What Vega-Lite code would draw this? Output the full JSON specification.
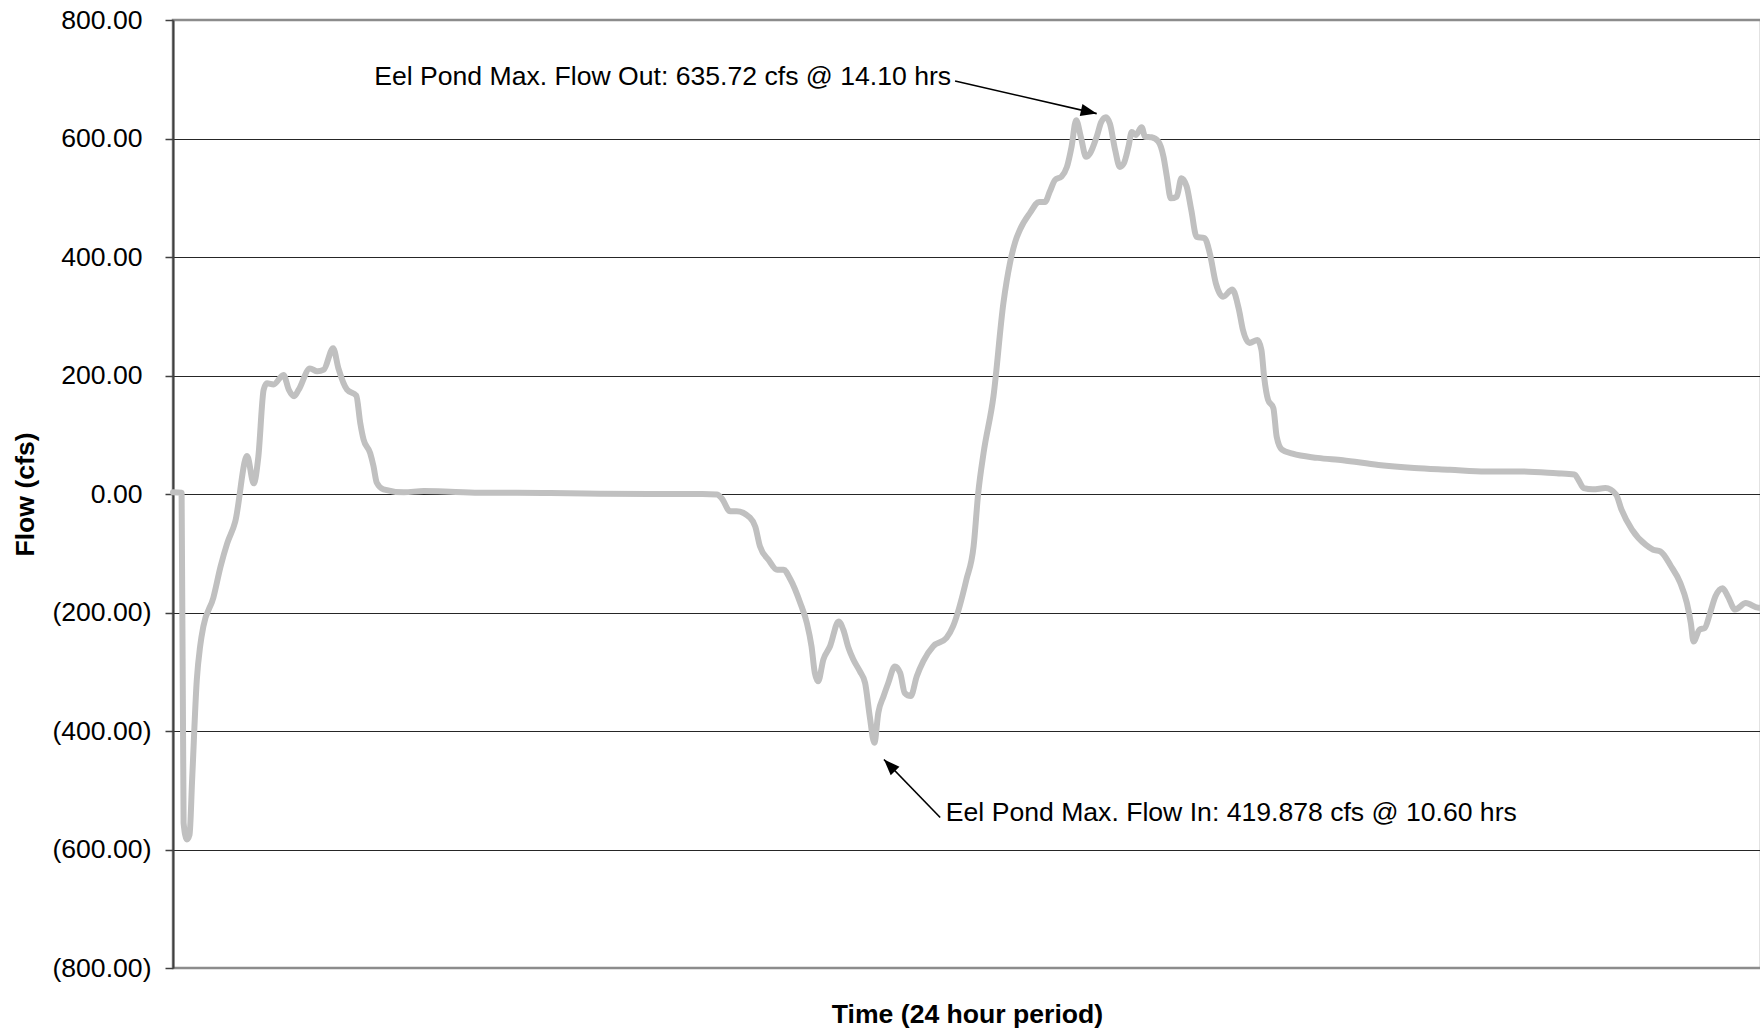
{
  "$schema": "https://vega.github.io/schema/vega-lite/v6.json",
  "autosize": {"type": "none"},
  "width": 1588,
  "height": 948,
  "padding": {"left": 173, "top": 20, "right": 0, "bottom": 61},
  "background": "white",
  "config": {
    "font": "Liberation Sans",
    "view": {"stroke": "#8c8c8c", "strokeWidth": 2.5}
  },
  "datasets": {
    "flow": [
      {"hours": 0.00, "flow": 3}, {"hours": 0.13, "flow": 2}, {"hours": 0.16, "flow": -555},
      {"hours": 0.21, "flow": -583}, {"hours": 0.25, "flow": -575}, {"hours": 0.29, "flow": -480},
      {"hours": 0.36, "flow": -313}, {"hours": 0.41, "flow": -257}, {"hours": 0.46, "flow": -223},
      {"hours": 0.61, "flow": -175}, {"hours": 0.72, "flow": -122}, {"hours": 0.82, "flow": -83},
      {"hours": 0.94, "flow": -47}, {"hours": 1.12, "flow": 64}, {"hours": 1.22, "flow": 18},
      {"hours": 1.29, "flow": 63}, {"hours": 1.37, "flow": 176}, {"hours": 1.42, "flow": 187},
      {"hours": 1.52, "flow": 185}, {"hours": 1.67, "flow": 201}, {"hours": 1.75, "flow": 176},
      {"hours": 1.83, "flow": 165}, {"hours": 1.90, "flow": 176}, {"hours": 2.07, "flow": 212},
      {"hours": 2.18, "flow": 207}, {"hours": 2.28, "flow": 210}, {"hours": 2.42, "flow": 246},
      {"hours": 2.50, "flow": 212}, {"hours": 2.63, "flow": 176}, {"hours": 2.77, "flow": 166},
      {"hours": 2.83, "flow": 120}, {"hours": 2.88, "flow": 92}, {"hours": 2.98, "flow": 69},
      {"hours": 3.03, "flow": 47}, {"hours": 3.08, "flow": 19}, {"hours": 3.18, "flow": 8},
      {"hours": 3.49, "flow": 3}, {"hours": 3.79, "flow": 5}, {"hours": 4.19, "flow": 4},
      {"hours": 4.69, "flow": 2}, {"hours": 5.20, "flow": 2}, {"hours": 5.70, "flow": 1.5},
      {"hours": 6.46, "flow": 0.5}, {"hours": 7.20, "flow": 0}, {"hours": 8.00, "flow": 0},
      {"hours": 8.22, "flow": -1}, {"hours": 8.29, "flow": -7}, {"hours": 8.42, "flow": -29},
      {"hours": 8.52, "flow": -29}, {"hours": 8.72, "flow": -40}, {"hours": 8.80, "flow": -55},
      {"hours": 8.87, "flow": -88}, {"hours": 9.00, "flow": -111}, {"hours": 9.13, "flow": -128},
      {"hours": 9.23, "flow": -128}, {"hours": 9.33, "flow": -144}, {"hours": 9.48, "flow": -184},
      {"hours": 9.58, "flow": -218}, {"hours": 9.65, "flow": -257}, {"hours": 9.70, "flow": -302},
      {"hours": 9.75, "flow": -316}, {"hours": 9.83, "flow": -279}, {"hours": 9.93, "flow": -257},
      {"hours": 10.06, "flow": -215}, {"hours": 10.13, "flow": -229}, {"hours": 10.21, "flow": -260},
      {"hours": 10.28, "flow": -279}, {"hours": 10.38, "flow": -299}, {"hours": 10.46, "flow": -319},
      {"hours": 10.53, "flow": -375}, {"hours": 10.60, "flow": -420}, {"hours": 10.66, "flow": -369},
      {"hours": 10.74, "flow": -341}, {"hours": 10.81, "flow": -319}, {"hours": 10.91, "flow": -291},
      {"hours": 10.99, "flow": -302}, {"hours": 11.06, "flow": -336}, {"hours": 11.15, "flow": -341},
      {"hours": 11.24, "flow": -308}, {"hours": 11.34, "flow": -282}, {"hours": 11.49, "flow": -257},
      {"hours": 11.69, "flow": -243}, {"hours": 11.79, "flow": -223}, {"hours": 11.99, "flow": -145},
      {"hours": 12.10, "flow": -88}, {"hours": 12.17, "flow": 2}, {"hours": 12.25, "flow": 69},
      {"hours": 12.40, "flow": 165}, {"hours": 12.55, "flow": 322}, {"hours": 12.65, "flow": 390},
      {"hours": 12.73, "flow": 426}, {"hours": 12.80, "flow": 446}, {"hours": 12.95, "flow": 474},
      {"hours": 13.09, "flow": 493}, {"hours": 13.18, "flow": 493}, {"hours": 13.25, "flow": 510},
      {"hours": 13.33, "flow": 530}, {"hours": 13.43, "flow": 536}, {"hours": 13.51, "flow": 552},
      {"hours": 13.58, "flow": 586}, {"hours": 13.65, "flow": 631}, {"hours": 13.72, "flow": 603},
      {"hours": 13.80, "flow": 569}, {"hours": 13.86, "flow": 575}, {"hours": 13.96, "flow": 603},
      {"hours": 14.03, "flow": 628}, {"hours": 14.10, "flow": 636}, {"hours": 14.16, "flow": 625},
      {"hours": 14.24, "flow": 580}, {"hours": 14.31, "flow": 552}, {"hours": 14.37, "flow": 558},
      {"hours": 14.44, "flow": 586}, {"hours": 14.49, "flow": 611}, {"hours": 14.55, "flow": 606},
      {"hours": 14.64, "flow": 619}, {"hours": 14.69, "flow": 603}, {"hours": 14.79, "flow": 602},
      {"hours": 14.89, "flow": 595}, {"hours": 14.97, "flow": 569}, {"hours": 15.02, "flow": 536},
      {"hours": 15.08, "flow": 499}, {"hours": 15.17, "flow": 502}, {"hours": 15.24, "flow": 533},
      {"hours": 15.32, "flow": 519}, {"hours": 15.39, "flow": 479}, {"hours": 15.47, "flow": 434},
      {"hours": 15.59, "flow": 432}, {"hours": 15.67, "flow": 406}, {"hours": 15.76, "flow": 356},
      {"hours": 15.87, "flow": 333}, {"hours": 16.01, "flow": 345}, {"hours": 16.11, "flow": 311},
      {"hours": 16.17, "flow": 277}, {"hours": 16.27, "flow": 255}, {"hours": 16.39, "flow": 260},
      {"hours": 16.45, "flow": 243}, {"hours": 16.49, "flow": 198}, {"hours": 16.55, "flow": 159},
      {"hours": 16.63, "flow": 145}, {"hours": 16.68, "flow": 97}, {"hours": 16.76, "flow": 75},
      {"hours": 16.92, "flow": 68}, {"hours": 17.30, "flow": 61}, {"hours": 17.68, "flow": 57},
      {"hours": 18.22, "flow": 49}, {"hours": 18.76, "flow": 44}, {"hours": 19.30, "flow": 41},
      {"hours": 19.84, "flow": 38}, {"hours": 20.37, "flow": 38}, {"hours": 20.91, "flow": 35},
      {"hours": 21.18, "flow": 33}, {"hours": 21.24, "flow": 24}, {"hours": 21.32, "flow": 10},
      {"hours": 21.46, "flow": 8}, {"hours": 21.65, "flow": 10}, {"hours": 21.81, "flow": -1},
      {"hours": 21.89, "flow": -26}, {"hours": 22.05, "flow": -60}, {"hours": 22.26, "flow": -86},
      {"hours": 22.37, "flow": -94}, {"hours": 22.48, "flow": -97}, {"hours": 22.64, "flow": -122},
      {"hours": 22.78, "flow": -150}, {"hours": 22.88, "flow": -184}, {"hours": 22.94, "flow": -218},
      {"hours": 22.98, "flow": -249}, {"hours": 23.07, "flow": -229}, {"hours": 23.15, "flow": -226},
      {"hours": 23.23, "flow": -201}, {"hours": 23.31, "flow": -173}, {"hours": 23.42, "flow": -159},
      {"hours": 23.50, "flow": -173}, {"hours": 23.61, "flow": -195}, {"hours": 23.77, "flow": -184},
      {"hours": 23.96, "flow": -192}, {"hours": 24.00, "flow": -192}
    ],
    "arrows": [
      {"name": "out", "hours": 11.82, "flow": 697, "tipHours": 13.96, "tipFlow": 642},
      {"name": "in", "hours": 11.595, "flow": -546, "tipHours": 10.745, "tipFlow": -448}
    ],
    "labels": [
      {"name": "out", "text": "Eel Pond Max. Flow Out: 635.72 cfs @ 14.10 hrs", "hours": 11.76, "flow": 703},
      {"name": "in", "text": "Eel Pond Max. Flow In: 419.878 cfs @ 10.60 hrs", "hours": 11.68, "flow": -539}
    ]
  },
  "layer": [
    {
      "data": {"name": "flow"},
      "mark": {"type": "line", "color": "#c0c0c0", "strokeWidth": 6, "interpolate": "monotone", "strokeJoin": "round", "strokeCap": "round"},
      "encoding": {
        "x": {
          "field": "hours", "type": "quantitative",
          "scale": {"domain": [0, 24], "nice": false, "zero": false},
          "axis": {
            "labels": false, "ticks": false, "grid": false, "domain": false,
            "title": "Time (24 hour period)",
            "titleFont": "Liberation Sans", "titleFontSize": 26.6, "titleFontWeight": "bold", "titleColor": "#000000",
            "titleX": 794, "titleY": 46, "titleAlign": "center", "titleBaseline": "middle"
          }
        },
        "y": {
          "field": "flow", "type": "quantitative",
          "scale": {"domain": [-800, 800], "nice": false, "zero": false},
          "axis": {
            "values": [-800, -600, -400, -200, 0, 200, 400, 600, 800],
            "labelExpr": "datum.value < 0 ? '(' + format(-datum.value, '.2f') + ')' : format(datum.value, '.2f')",
            "labelFont": "Liberation Sans", "labelFontSize": 26.6, "labelColor": "#000000",
            "labelPadding": {"condition": {"test": "datum.value >= 0", "value": 23}, "value": 14},
            "tickSize": 8, "tickColor": "#404040", "tickWidth": 1.5,
            "domainColor": "#404040", "domainWidth": 2,
            "grid": true, "gridColor": "#262626", "gridWidth": 1.2,
            "gridOpacity": {"condition": {"test": "abs(datum.value) == 800", "value": 0}, "value": 1},
            "title": "Flow (cfs)",
            "titleFont": "Liberation Sans", "titleFontSize": 26.6, "titleFontWeight": "bold", "titleColor": "#000000",
            "titleAngle": 270, "titleX": -148, "titleY": 474, "titleAlign": "center", "titleBaseline": "middle"
          }
        }
      }
    },
    {
      "data": {"name": "arrows"},
      "mark": {"type": "rule", "color": "#000000", "strokeWidth": 1.6},
      "encoding": {
        "x": {"field": "hours", "type": "quantitative"},
        "y": {"field": "flow", "type": "quantitative"},
        "x2": {"field": "tipHours"},
        "y2": {"field": "tipFlow"}
      }
    },
    {
      "data": {"name": "arrows"},
      "transform": [{"filter": "datum.name == 'out'"}],
      "mark": {"type": "point", "shape": "M0,0L-0.38,1L0.38,1Z", "filled": true, "color": "#000000", "opacity": 1, "size": 1024, "angle": 103},
      "encoding": {
        "x": {"field": "tipHours", "type": "quantitative"},
        "y": {"field": "tipFlow", "type": "quantitative"}
      }
    },
    {
      "data": {"name": "arrows"},
      "transform": [{"filter": "datum.name == 'in'"}],
      "mark": {"type": "point", "shape": "M0,0L-0.38,1L0.38,1Z", "filled": true, "color": "#000000", "opacity": 1, "size": 1024, "angle": 316},
      "encoding": {
        "x": {"field": "tipHours", "type": "quantitative"},
        "y": {"field": "tipFlow", "type": "quantitative"}
      }
    },
    {
      "data": {"name": "labels"},
      "transform": [{"filter": "datum.name == 'out'"}],
      "mark": {"type": "text", "align": "right", "baseline": "middle", "font": "Liberation Sans", "fontSize": 26.6, "color": "#000000"},
      "encoding": {
        "x": {"field": "hours", "type": "quantitative"},
        "y": {"field": "flow", "type": "quantitative"},
        "text": {"field": "text"}
      }
    },
    {
      "data": {"name": "labels"},
      "transform": [{"filter": "datum.name == 'in'"}],
      "mark": {"type": "text", "align": "left", "baseline": "middle", "font": "Liberation Sans", "fontSize": 26.6, "color": "#000000"},
      "encoding": {
        "x": {"field": "hours", "type": "quantitative"},
        "y": {"field": "flow", "type": "quantitative"},
        "text": {"field": "text"}
      }
    }
  ]
}
